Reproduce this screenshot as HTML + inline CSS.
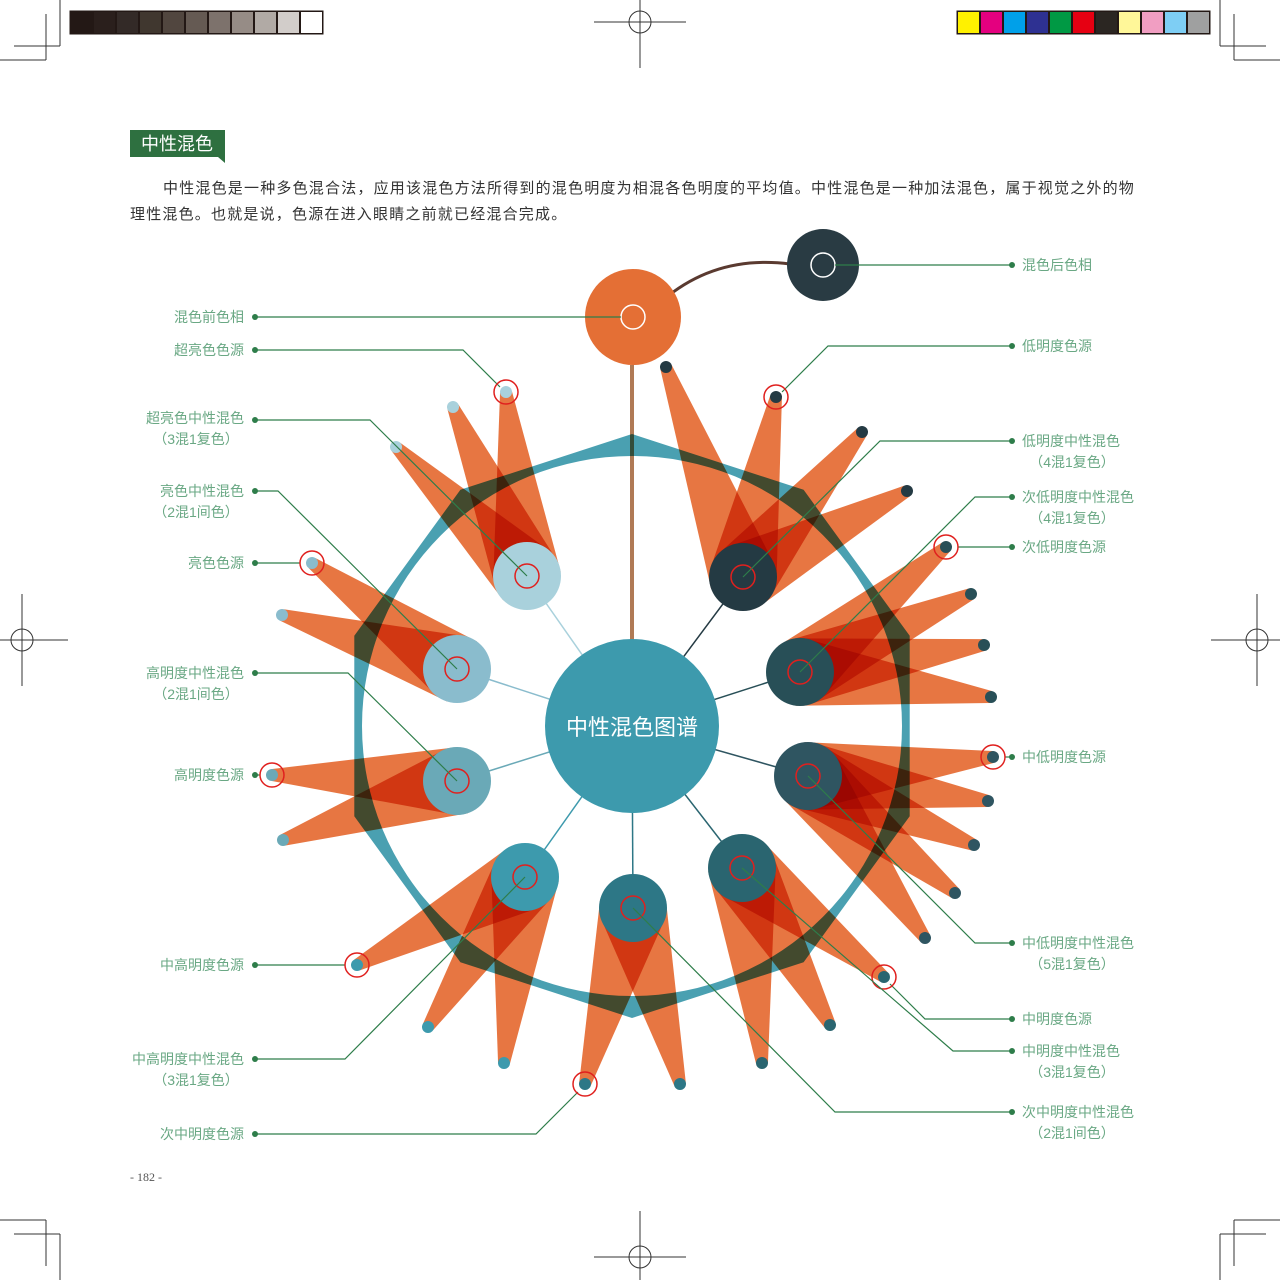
<!DOCTYPE html>
<html><head><meta charset="utf-8">
<style>
html,body{margin:0;padding:0;background:#fff;}
body{width:1280px;height:1280px;position:relative;overflow:hidden;font-family:"Liberation Sans","Noto Sans CJK SC",sans-serif;}
.p{position:absolute;left:130px;width:1012px;font-size:15px;color:#333;line-height:26px;letter-spacing:1.2px}
</style></head><body>
<svg id="s" width="1280" height="1280" viewBox="0 0 1280 1280" style="position:absolute;left:0;top:0" font-family="Liberation Sans, Noto Sans CJK SC, sans-serif"></svg>
<div class="p" style="top:176px;text-indent:33px">中性混色是一种多色混合法，应用该混色方法所得到的混色明度为相混各色明度的平均值。中性混色是一种加法混色，属于视觉之外的物<br>理性混色。也就是说，色源在进入眼睛之前就已经混合完成。</div>
<script>
const S=document.getElementById('s');let h='';
const K='#333';
function L(x1,y1,x2,y2,c,w,extra){h+=`<line x1="${x1}" y1="${y1}" x2="${x2}" y2="${y2}" stroke="${c}" stroke-width="${w}" ${extra||''}/>`;}
[[0,0,1,1],[1280,0,-1,1],[0,1280,1,-1],[1280,1280,-1,-1]].forEach(([ox,oy,sx,sy])=>{
 L(ox+sx*60,oy,ox+sx*60,oy+sy*46,K,1);L(ox+sx*14,oy+sy*46,ox+sx*60,oy+sy*46,K,1);
 L(ox+sx*46,oy+sy*14,ox+sx*46,oy+sy*60,K,1);L(ox,oy+sy*60,ox+sx*46,oy+sy*60,K,1);
});
[[640,22],[640,1257],[22,640],[1257,640]].forEach(([x,y])=>{
 h+=`<circle cx="${x}" cy="${y}" r="11" fill="none" stroke="${K}" stroke-width="1"/>`;
 L(x-46,y,x+46,y,K,1);L(x,y-46,x,y+46,K,1);
});
const g=['#231815','#2a1f1c','#332a27','#40372f','#51463f','#655a53','#7d726c','#968c86','#b1aaa5','#d2cdca','#ffffff'];
h+=`<rect x="69.5" y="10.5" width="254" height="24" fill="#231815"/>`;
g.forEach((c,i)=>h+=`<rect x="${71+i*23}" y="12" width="21" height="21" fill="${c}"/>`);
const cc=['#fff100','#e4007f','#00a0e9','#2e3192','#009944','#e60012','#2b2622','#fff799','#f19ec2','#7ecef4','#9fa0a0'];
h+=`<rect x="956.5" y="10.5" width="254" height="24" fill="#231815"/>`;
cc.forEach((c,i)=>h+=`<rect x="${958+i*23}" y="12" width="21" height="21" fill="${c}"/>`);
h+=`<path d="M130 130 H225 V157 H218 L225 163 L218 157 H130Z" fill="#2e7040"/><path d="M218 157 L225 163 V157Z" fill="#2e7040"/>`;
h+=`<text x="141" y="150" font-size="18" fill="#fff">中性混色</text>`;
h+=`<text x="130" y="1181" font-size="12" fill="#555" font-family="Liberation Serif, serif">- 182 -</text>`;
const CX=632,CY=726;
const sats=[
 [527,576,'#a9d1dc','#a9d1dc',[[453,407],[506,392],[396,447]]],
 [743,577,'#243a43','#243a43',[[666,367],[776,397],[862,432],[907,491]]],
 [800,672,'#284f57','#284f57',[[946,547],[971,594],[984,645],[991,697]]],
 [808,776,'#2f5561','#2f5561',[[993,757],[988,801],[974,845],[955,893],[925,938]]],
 [742,868,'#2a6570','#2a6570',[[884,977],[830,1025],[762,1063]]],
 [633,908,'#2d7786','#2d7786',[[585,1084],[680,1084]]],
 [525,877,'#3d9aad','#3d9aad',[[357,965],[428,1027],[504,1063]]],
 [457,781,'#6aa9b7','#6aa9b7',[[272,775],[283,840]]],
 [457,669,'#8abccd','#8abccd',[[312,563],[282,615]]],
];
sats.forEach(s=>L(CX,CY,s[0],s[1],s[2],1.5));
L(632,365,632,640,'#b07a55',4);
sats.forEach(([x,y,c,dc,tips])=>{tips.forEach(([tx,ty])=>{
 let dx=tx-x,dy=ty-y,d=Math.hypot(dx,dy);let px=-dy/d,py=dx/d;const r=34,rt=6;
 h+=`<polygon points="${x+px*r},${y+py*r} ${tx+px*rt},${ty+py*rt} ${tx-px*rt},${ty-py*rt} ${x-px*r},${y-py*r}" fill="#e56d36" fill-opacity="0.94" style="mix-blend-mode:multiply"/>`;
});});
let dp='';for(let i=0;i<10;i++){let a=-Math.PI/2+i*Math.PI/5;dp+=(i?'L':'M')+(CX+292*Math.cos(a)).toFixed(1)+' '+(CY+292*Math.sin(a)).toFixed(1);}
dp+='Z M'+(CX+270)+' '+CY+' A270 270 0 1 0 '+(CX-270)+' '+CY+' A270 270 0 1 0 '+(CX+270)+' '+CY+'Z';
h+=`<path d="${dp}" fill="#3b98aa" fill-opacity="0.92" fill-rule="evenodd" style="mix-blend-mode:multiply"/>`;
sats.forEach(([x,y,c,dc,tips])=>{tips.forEach(([tx,ty])=>h+=`<circle cx="${tx}" cy="${ty}" r="6" fill="${dc}"/>`);
 h+=`<circle cx="${x}" cy="${y}" r="34" fill="${c}"/>`;});
h+=`<circle cx="${CX}" cy="${CY}" r="87" fill="#3d9aad"/><text x="${CX}" y="${CY+9}" font-size="22" fill="#fff" text-anchor="middle">中性混色图谱</text>`;
h+=`<path d="M668 296 Q720 255 790 264" stroke="#5a3a30" stroke-width="3" fill="none"/>`;
h+=`<circle cx="633" cy="317" r="48" fill="#e46f35"/><circle cx="823" cy="265" r="36" fill="#293b43"/>`;
h+=`<circle cx="633" cy="317" r="12" fill="none" stroke="#fff" stroke-width="1.5"/><circle cx="823" cy="265" r="12" fill="none" stroke="#fff" stroke-width="1.5"/>`;
const G='#2e7d4a',T='#6aa884';
function lab(pts,text,side,y){let d='M'+pts.map(p=>p.join(' ')).join(' L');h+=`<path d="${d}" fill="none" stroke="${G}" stroke-width="1.2"/>`;
 let [dx,dy]=pts[0];h+=`<circle cx="${dx}" cy="${dy}" r="3" fill="${G}"/>`;
 let lines=text.split('|');lines.forEach((t,i)=>{let ty=y+5+i*21;
  if(side=='L'){h+=`<text x="${i?196:244}" y="${ty}" font-size="14" fill="${T}" text-anchor="${i?'middle':'end'}">${t}</text>`;}
  else{h+=`<text x="${i?1072:1022}" y="${ty}" font-size="14" fill="${T}" text-anchor="${i?'middle':'start'}">${t}</text>`;}
 });}
function mk(x,y){h+=`<circle cx="${x}" cy="${y}" r="12" fill="none" stroke="#e0201e" stroke-width="1.5"/>`;}
sats.forEach(s=>mk(s[0],s[1]));
lab([[255,317],[621,317]],'混色前色相','L',317);
lab([[255,350],[463,350],[500,387]],'超亮色色源','L',350);mk(506,392);
lab([[255,420],[370,420],[527,576]],'超亮色中性混色|（3混1复色）','L',418);
lab([[255,491],[278,491],[457,669]],'亮色中性混色|（2混1间色）','L',491);
lab([[255,563],[300,563]],'亮色色源','L',563);mk(312,563);
lab([[255,673],[348,673],[457,781]],'高明度中性混色|（2混1间色）','L',673);
lab([[255,775],[260,775]],'高明度色源','L',775);mk(272,775);
lab([[255,965],[345,965]],'中高明度色源','L',965);mk(357,965);
lab([[255,1059],[345,1059],[525,877]],'中高明度中性混色|（3混1复色）','L',1059);
lab([[255,1134],[536,1134],[578,1092]],'次中明度色源','L',1134);mk(585,1084);
lab([[1012,265],[835,265]],'混色后色相','R',265);
lab([[1012,346],[828,346],[782,392]],'低明度色源','R',346);mk(776,397);
lab([[1012,441],[880,441],[743,577]],'低明度中性混色|（4混1复色）','R',441);
lab([[1012,497],[975,497],[800,672]],'次低明度中性混色|（4混1复色）','R',497);
lab([[1012,547],[958,547]],'次低明度色源','R',547);mk(946,547);
lab([[1012,757],[1005,757]],'中低明度色源','R',757);mk(993,757);
lab([[1012,943],[975,943],[808,776]],'中低明度中性混色|（5混1复色）','R',943);
lab([[1012,1019],[925,1019],[890,984]],'中明度色源','R',1019);mk(884,977);
lab([[1012,1051],[953,1051],[742,868]],'中明度中性混色|（3混1复色）','R',1051);
lab([[1012,1112],[835,1112],[633,908]],'次中明度中性混色|（2混1间色）','R',1112);
S.innerHTML=h;
</script>
</body></html>
